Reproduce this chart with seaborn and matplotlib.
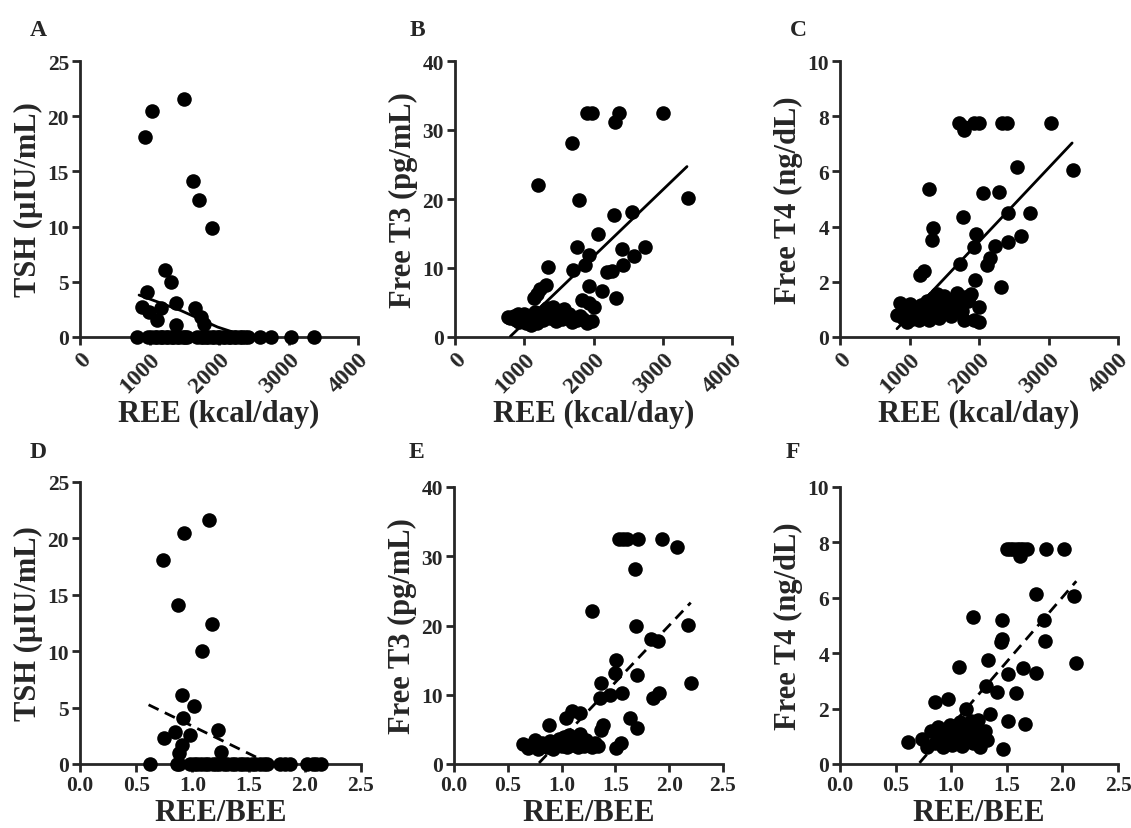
import matplotlib
import numpy as np
import pandas as pd
import seaborn as sns

matplotlib.use("Agg")
import matplotlib.pyplot as plt

# ---- Panel A: REE vs TSH ----
ree_a = [930, 1040, 1490, 1620, 1715, 1895, 1220, 1305, 965, 895, 990, 1110, 1170, 1375, 1375, 1650,
         1740, 1780,
         820, 985, 1025, 1075, 1105, 1160, 1185, 1240, 1265, 1320, 1345, 1400, 1425, 1480, 1505, 1545,
         1690, 1735, 1765, 1820, 1845, 1900, 1925, 1980, 2005, 2060, 2085, 2140, 2165, 2220, 2245,
         2300, 2330, 2380, 2415, 2585, 2755, 3035, 3360]
tsh_a = [18.1, 20.5, 21.6, 14.1, 12.4, 9.9, 6.1, 5.0, 4.1, 2.7, 2.3, 1.5, 2.6, 3.1, 1.05, 2.6,
         1.8, 1.2,
         0, 0, 0, 0, 0, 0, 0, 0, 0, 0, 0, 0, 0, 0, 0, 0,
         0, 0, 0, 0, 0, 0, 0, 0, 0, 0, 0, 0, 0, 0, 0,
         0, 0, 0, 0, 0, 0, 0, 0]
fit_a_x = [850, 1450, 1980, 2370]
fit_a_y = [3.8, 2.4, 0.9, 0.1]

# ---- Panel B: REE vs Free T3 ----
ree_b = [1905, 1975, 2315, 2375, 3010, 1695, 1205, 1795, 3360, 2290, 2555, 2060, 1760, 1930, 1880,
         2410, 2745, 2590, 2420, 1700, 2195, 2265, 1350, 1310, 1230, 1180, 1135, 1930, 2120, 2330,
         1830, 1930, 2000, 1975,
         760, 800, 845, 880, 905, 930, 965, 1000, 1020, 1055, 1080, 1100, 1135, 1160, 1190, 1215,
         1240, 1275, 1300, 1330, 1365, 1390, 1420, 1455, 1480, 1510, 1545, 1570, 1600, 1640, 1685,
         1720, 1760, 1800, 1850, 1900]
ft3_b = [32.5, 32.5, 31.2, 32.5, 32.5, 28.1, 22.1, 19.9, 20.1, 17.7, 18.1, 14.9, 13.1, 11.9, 10.4,
         12.8, 13.1, 11.7, 10.4, 9.7, 9.4, 9.5, 10.2, 7.5, 7.0, 6.3, 5.6, 7.4, 6.6, 5.6,
         5.4, 4.9, 4.4, 2.3,
         2.9, 2.7, 3.1, 2.5, 3.3, 2.2, 2.8, 3.4, 2.0, 2.6, 3.0, 1.8, 2.4, 3.6, 2.1, 2.9,
         3.2, 2.5, 3.9, 4.2, 2.7, 3.5, 4.4, 2.3, 3.1, 3.8, 2.6, 4.0, 2.9, 3.3, 2.2,
         2.8, 2.4, 3.0, 2.6, 2.0]
fit_b_x = [800, 3350]
fit_b_y = [0.1, 24.7]

# ---- Panel C: REE vs Free T4 ----
ree_c = [1715, 1790, 1790, 1925, 1995, 2330, 2405, 3030, 2550, 3350, 1285, 2060, 2285, 1765, 2415,
         2740, 1345, 1320, 1960, 2605, 2415, 1925, 2235, 2155, 2115, 1730, 1155, 1210, 2310, 1945,
         1850, 1995, 1995, 1925, 1780,
         820, 870, 900, 930, 960, 990, 1010, 1040, 1070, 1100, 1130, 1160, 1190, 1220, 1250, 1280,
         1310, 1340, 1370, 1400, 1430, 1460, 1490, 1520, 1560, 1600, 1640, 1680, 1720, 1760, 1800,
         1840, 1880]
ft4_c = [7.75, 7.6, 7.5, 7.75, 7.75, 7.75, 7.75, 7.75, 6.15, 6.05, 5.35, 5.2, 5.25, 4.35, 4.5,
         4.5, 3.95, 3.5, 3.75, 3.65, 3.45, 3.25, 3.3, 2.85, 2.6, 2.65, 2.25, 2.4, 1.8, 2.05,
         1.45, 1.1, 0.55, 0.6, 0.6,
         0.8, 1.25, 0.7, 1.1, 0.55, 0.95, 1.2, 0.65, 0.85, 1.05, 0.6, 1.15, 0.75, 0.95, 1.3, 0.6,
         1.0, 1.4, 0.8, 1.55, 0.7, 1.2, 1.5, 0.9, 1.35, 0.75, 1.1, 1.6, 1.25, 0.95, 1.45,
         1.3, 1.55]
fit_c_x = [820, 3340]
fit_c_y = [0.3, 7.03]

# ---- Panel D: REE/BEE vs TSH ----
rb_d = [0.735, 0.925, 1.15, 0.875, 1.17, 1.085, 0.91, 1.01, 0.915, 1.23, 0.75, 0.845, 0.98, 0.905,
        0.885, 1.25,
        0.62, 0.86, 0.885, 0.98, 1.01, 1.04, 1.08, 1.11, 1.14, 1.18, 1.21, 1.24, 1.28, 1.31, 1.35,
        1.38, 1.42, 1.45, 1.49, 1.53, 1.56, 1.6, 1.64, 1.66, 1.78, 1.82, 1.87, 2.02, 2.07, 2.1, 2.14]
tsh_d = [18.1, 20.5, 21.6, 14.1, 12.4, 10.0, 6.1, 5.1, 4.1, 3.05, 2.3, 2.8, 2.6, 1.7,
         1.0, 1.1,
         0, 0, 0, 0, 0, 0, 0, 0, 0, 0, 0, 0, 0, 0, 0,
         0, 0, 0, 0, 0, 0, 0, 0, 0, 0, 0, 0, 0, 0, 0, 0]
fit_d_x = [0.61, 1.6]
fit_d_y = [5.25, 0.45]

# ---- Panel E: REE/BEE vs Free T3 ----
rb_e = [1.535, 1.57, 1.605, 1.71, 1.93, 2.07, 1.68, 1.28, 1.69, 2.175, 1.835, 1.9, 1.505, 1.495,
        1.37, 1.70, 2.2, 1.355, 1.45, 1.565, 1.845, 1.905, 1.04, 1.095, 1.17, 0.885, 1.385, 1.37,
        1.64, 1.705, 1.555, 1.51, 0.64, 0.755,
        0.69, 0.72, 0.78, 0.82, 0.86, 0.89, 0.92, 0.95, 0.98, 1.0, 1.02, 1.05, 1.07, 1.09, 1.11,
        1.13, 1.15, 1.17, 1.19, 1.21, 1.23, 1.26, 1.28, 1.31, 1.34]
ft3_e = [32.5, 32.5, 32.5, 32.5, 32.5, 31.3, 28.1, 22.1, 19.9, 20.1, 18.0, 17.7, 15.0, 13.2,
         11.7, 12.8, 11.7, 9.6, 9.9, 10.3, 9.6, 10.3, 6.7, 7.7, 7.4, 5.6, 5.6, 4.9,
         6.7, 5.2, 3.1, 2.3, 2.9, 3.4,
         2.3, 2.8, 2.2, 3.0, 2.5, 3.3, 2.1, 2.9, 3.6, 2.6, 3.9, 2.4, 4.2, 3.1, 2.7,
         3.8, 2.5, 4.4, 3.2, 2.6, 3.5, 2.9, 2.4, 3.0, 2.6]
fit_e_x = [0.79, 2.2]
fit_e_y = [0.15, 23.3]

# ---- Panel F: REE/BEE vs Free T4 ----
rb_f = [1.5, 1.53, 1.56, 1.59, 1.62, 1.65, 1.68, 1.62, 1.855, 2.01, 1.765, 2.1, 1.2, 1.46, 1.835,
        1.45, 1.455, 1.84, 2.125, 1.07, 1.33, 1.51, 1.645, 1.765, 1.315, 1.41, 1.585, 0.975,
        0.85, 1.135, 1.35, 1.51, 1.66, 1.465, 0.615, 0.735,
        0.78, 0.82, 0.85, 0.88, 0.9, 0.93, 0.96, 0.99, 1.01, 1.03, 1.06, 1.08, 1.1, 1.12, 1.14,
        1.16, 1.18, 1.2, 1.22, 1.24, 1.26, 1.28, 1.3, 1.32]
ft4_f = [7.75, 7.75, 7.75, 7.75, 7.75, 7.75, 7.75, 7.5, 7.75, 7.75, 6.15, 6.05, 5.3, 5.2, 5.2,
         4.4, 4.5, 4.45, 3.65, 3.5, 3.75, 3.25, 3.45, 3.3, 2.8, 2.6, 2.55, 2.35,
         2.25, 2.0, 1.8, 1.55, 1.45, 0.55, 0.8, 0.9,
         0.6, 1.2, 0.75, 1.35, 0.95, 0.6, 1.1, 1.4, 0.7, 1.25, 0.85, 1.5, 0.65, 1.05, 1.3,
         0.9, 1.55, 0.75, 1.15, 1.6, 0.6, 1.0, 1.2, 0.85]
fit_f_x = [0.715, 2.125]
fit_f_y = [0.04, 6.6]

REE_TICKS = [0, 1000, 2000, 3000, 4000]
RATIO_TICKS = [0.0, 0.5, 1.0, 1.5, 2.0, 2.5]

sns.set_style("ticks")
plt.rcParams["font.family"] = ["Liberation Serif", "DejaVu Serif"]
plt.rcParams["font.weight"] = "bold"
plt.rcParams["axes.labelweight"] = "bold"

fig = plt.figure(figsize=(11.31, 8.29), dpi=100)
W, H = 1131.0, 829.0


def make_axes(left, top, right, bottom):
    return fig.add_axes([left / W, 1 - bottom / H, (right - left) / W, (bottom - top) / H])


def draw_panel(ax, x, y, fx, fy, dashed, xlim, ylim, xticks, yticks, xlabel, ylabel, rotate):
    df = pd.DataFrame({"x": x, "y": y})
    sns.scatterplot(data=df, x="x", y="y", ax=ax, color="black", marker="o", s=110,
                    edgecolor="black", linewidth=0, clip_on=False, zorder=3)
    fit = pd.DataFrame({"x": fx, "y": fy})
    sns.lineplot(data=fit, x="x", y="y", ax=ax, color="black", linewidth=2,
                 linestyle=(0, (4, 2.5)) if dashed else "-", zorder=4)
    ax.set_xlim(*xlim)
    ax.set_ylim(*ylim)
    ax.set_xticks(xticks)
    ax.set_yticks(yticks)
    for side in ["top", "right"]:
        ax.spines[side].set_visible(False)
    for side in ["left", "bottom"]:
        ax.spines[side].set_linewidth(2)
    ax.tick_params(width=2, length=6, labelsize=15.5, pad=2, direction="out")
    if rotate:
        ax.set_xticklabels([str(t) for t in xticks], rotation=45, ha="right",
                           rotation_mode="anchor", fontweight="bold", fontsize=17)
    else:
        ax.set_xticklabels([f"{t:.1f}" for t in xticks], fontweight="bold")
    ax.set_yticklabels([str(t) for t in yticks], fontweight="bold")
    ax.set_xlabel(xlabel, fontsize=22, fontweight="bold", labelpad=2)
    ax.set_ylabel(ylabel, fontsize=22, fontweight="bold", labelpad=3)


axA = make_axes(80, 62, 358, 338)
draw_panel(axA, ree_a, tsh_a, fit_a_x, fit_a_y, False, (0, 4000), (0, 25), REE_TICKS,
           [0, 5, 10, 15, 20, 25], "REE (kcal/day)", "TSH (µIU/mL)", True)
axB = make_axes(455, 62, 732, 338)
draw_panel(axB, ree_b, ft3_b, fit_b_x, fit_b_y, False, (0, 4000), (0, 40), REE_TICKS,
           [0, 10, 20, 30, 40], "REE (kcal/day)", "Free T3 (pg/mL)", True)
axC = make_axes(840, 62, 1118, 338)
draw_panel(axC, ree_c, ft4_c, fit_c_x, fit_c_y, False, (0, 4000), (0, 10), REE_TICKS,
           [0, 2, 4, 6, 8, 10], "REE (kcal/day)", "Free T4 (ng/dL)", True)
axD = make_axes(80, 483, 361, 765)
draw_panel(axD, rb_d, tsh_d, fit_d_x, fit_d_y, True, (0, 2.5), (0, 25), RATIO_TICKS,
           [0, 5, 10, 15, 20, 25], "REE/BEE", "TSH (µIU/mL)", False)
axE = make_axes(454, 488, 723, 765)
draw_panel(axE, rb_e, ft3_e, fit_e_x, fit_e_y, True, (0, 2.5), (0, 40), RATIO_TICKS,
           [0, 10, 20, 30, 40], "REE/BEE", "Free T3 (pg/mL)", False)
axF = make_axes(840, 488, 1118, 765)
draw_panel(axF, rb_f, ft4_f, fit_f_x, fit_f_y, True, (0, 2.5), (0, 10), RATIO_TICKS,
           [0, 2, 4, 6, 8, 10], "REE/BEE", "Free T4 (ng/dL)", False)

for letter, px, py in [("A", 38, 31), ("B", 417, 31), ("C", 798, 31),
                       ("D", 38, 453), ("E", 416, 453), ("F", 793, 453)]:
    fig.text(px / W, 1 - py / H, letter, fontsize=17, fontweight="bold", ha="center", va="center")

fig.savefig("out.png", dpi=100)
plt.close(fig)
